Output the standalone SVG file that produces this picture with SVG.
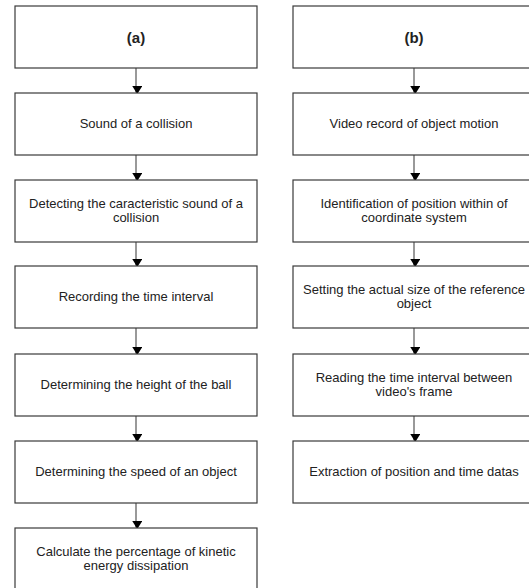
<svg xmlns="http://www.w3.org/2000/svg" width="529" height="588" viewBox="0 0 529 588">
<defs>
<style>
.box{fill:#fff;stroke:#3a3a3a;stroke-width:1.2}
.t{font-family:"Liberation Sans",Arial,sans-serif;font-size:13px;fill:#222;text-anchor:middle}
.h{font-weight:bold;font-size:15px}
.c{stroke:#555;stroke-width:1.2;fill:none;marker-end:url(#ah)}
</style>
<marker id="ah" markerWidth="8" markerHeight="10" refX="8" refY="5" orient="auto" markerUnits="userSpaceOnUse" viewBox="0 0 10 8" preserveAspectRatio="none">
<path d="M0,0 L10,4 L0,8 Z" fill="#000"/>
</marker>
</defs>
<rect width="529" height="588" fill="#fff"/>
<g id="connectors">
<line class="c" x1="136" y1="68" x2="136" y2="92.5"/>
<line class="c" x1="136" y1="155" x2="136" y2="179.5"/>
<line class="c" x1="136" y1="242" x2="136" y2="265.5"/>
<line class="c" x1="136" y1="328" x2="136" y2="353.5"/>
<line class="c" x1="136" y1="416" x2="136" y2="440.5"/>
<line class="c" x1="136" y1="503" x2="136" y2="527.5"/>
<line class="c" x1="414" y1="68" x2="414" y2="92.5"/>
<line class="c" x1="414" y1="155" x2="414" y2="179.5"/>
<line class="c" x1="414" y1="242" x2="414" y2="265.5"/>
<line class="c" x1="414" y1="328" x2="414" y2="353.5"/>
<line class="c" x1="414" y1="416" x2="414" y2="440.5"/>
</g>
<g id="a0"><rect class="box" x="15" y="6" width="242" height="62"/><text class="t h" x="136" y="43">(a)</text></g>
<g id="a1"><rect class="box" x="15" y="93" width="242" height="62"/><text class="t" x="136" y="128">Sound of a collision</text></g>
<g id="a2"><rect class="box" x="15" y="180" width="242" height="62"/><text class="t" x="136" y="208">Detecting the caracteristic sound of a</text><text class="t" x="136" y="222">collision</text></g>
<g id="a3"><rect class="box" x="15" y="266" width="242" height="62"/><text class="t" x="136" y="301">Recording the time interval</text></g>
<g id="a4"><rect class="box" x="15" y="354" width="242" height="62"/><text class="t" x="136" y="389">Determining the height of the ball</text></g>
<g id="a5"><rect class="box" x="15" y="441" width="242" height="62"/><text class="t" x="136" y="476">Determining the speed of an object</text></g>
<g id="a6"><rect class="box" x="15" y="528" width="242" height="62"/><text class="t" x="136" y="556">Calculate the percentage of kinetic</text><text class="t" x="136" y="570">energy dissipation</text></g>
<g id="b0"><rect class="box" x="293" y="6" width="242" height="62"/><text class="t h" x="414" y="43">(b)</text></g>
<g id="b1"><rect class="box" x="293" y="93" width="242" height="62"/><text class="t" x="414" y="128">Video record of object motion</text></g>
<g id="b2"><rect class="box" x="293" y="180" width="242" height="62"/><text class="t" x="414" y="208">Identification of position within of</text><text class="t" x="414" y="222">coordinate system</text></g>
<g id="b3"><rect class="box" x="293" y="266" width="242" height="62"/><text class="t" x="414" y="294">Setting the actual size of the reference</text><text class="t" x="414" y="308">object</text></g>
<g id="b4"><rect class="box" x="293" y="354" width="242" height="62"/><text class="t" x="414" y="382">Reading the time interval between</text><text class="t" x="414" y="396">video's frame</text></g>
<g id="b5"><rect class="box" x="293" y="441" width="242" height="62"/><text class="t" x="414" y="476">Extraction of position and time datas</text></g>
</svg>
